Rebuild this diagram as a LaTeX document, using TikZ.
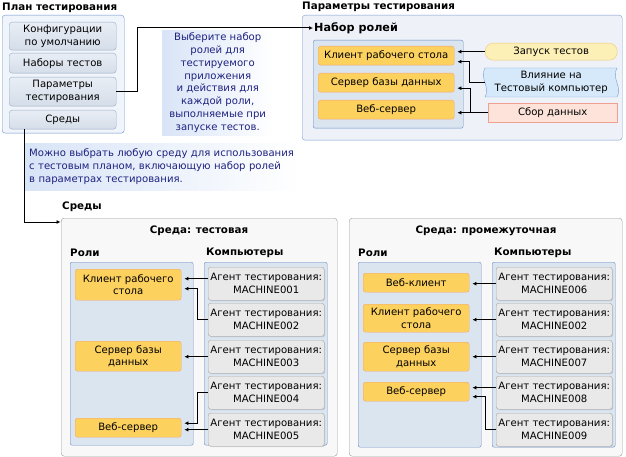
\documentclass[tikz,border=0pt]{standalone}
\usepackage{fontspec}
\setmainfont{DejaVu Sans}
\usepackage{tikz}
\usetikzlibrary{positioning,calc,arrows.meta,shadows}

\definecolor{planline}{HTML}{6B8FD0}
\definecolor{planfill}{HTML}{F0F4FB}
\definecolor{btnline}{HTML}{9AAAC4}
\definecolor{btntop}{HTML}{E9EEF5}
\definecolor{btnbot}{HTML}{D4DDE9}
\definecolor{notefill}{HTML}{D8E4F7}
\definecolor{notetext}{HTML}{1E2280}
\definecolor{parline}{HTML}{7D9AD2}
\definecolor{parfill}{HTML}{EEF2F8}
\definecolor{rpline}{HTML}{6A8AC6}
\definecolor{rpfill}{HTML}{DAE5F0}
\definecolor{roleline}{HTML}{EFA47E}
\definecolor{rolefill}{HTML}{FDD15E}
\definecolor{runline}{HTML}{F0C878}
\definecolor{runfill}{HTML}{FDF0B6}
\definecolor{impline}{HTML}{6FA2D8}
\definecolor{impfill}{HTML}{D6E9FA}
\definecolor{colline}{HTML}{F0A090}
\definecolor{colfill}{HTML}{FDE3DA}
\definecolor{envline}{HTML}{9C9C9C}
\definecolor{envfill}{HTML}{F8F8F8}
\definecolor{agline}{HTML}{A8A8A8}
\definecolor{agfill}{HTML}{E9E9E9}

\tikzset{
  box/.style={anchor=north west, inner sep=0pt, align=center},
  ttl/.style={anchor=west, inner sep=0pt, font=\fontsize{10.3}{12}\selectfont\bfseries},
  hdr/.style={inner sep=0pt, font=\fontsize{10.3}{12}\selectfont\bfseries},
  panel/.style={box, rounded corners=3pt},
  btn/.style={box, draw=btnline, top color=btntop, bottom color=btnbot, rounded corners=3pt, minimum width=107pt},
  note/.style={box, left color=notefill, right color=white, text=notetext},
  rolepanel/.style={box, draw=rpline, fill=rpfill, rounded corners=2pt},
  role/.style={box, draw=roleline, fill=rolefill, rounded corners=2.5pt},
  agent/.style={box, draw=agline, fill=agfill, rounded corners=2.5pt, minimum width=116pt, minimum height=33pt,
    drop shadow={shadow xshift=1pt, shadow yshift=-1pt, opacity=0.25}},
  envbox/.style={box, draw=envline, fill=envfill, rounded corners=3pt},
  arr/.style={draw=black, line width=1pt, -{Latex[length=4pt,width=4pt]}, shorten >=3pt}
}

\begin{document}
\begin{tikzpicture}[x=1pt, y=-1pt, font=\fontsize{10.1}{12.8}\selectfont]
    \useasboundingbox (0,0) rectangle (626,457);

    % Test plan
    \node[ttl] (plan) at (2,8) {План тестирования};
    \node[panel, draw=planline, fill=planfill, minimum width=122pt, minimum height=118pt] (pbox) at (2,15) {};
    \node[btn, minimum height=28pt] (cfg) at (9,22) {Конфигурации\\по умолчанию};
    \node[btn, minimum height=20pt] (sets) at (9,53) {Наборы тестов};
    \node[btn, minimum height=29pt] (par) at (9,77) {Параметры\\тестирования};
    \node[btn, minimum height=19pt] (env) at (9,110) {Среды};

    % Notes
    \node[note, minimum width=111pt, minimum height=105pt] (n1) at (162,30)
        {Выберите набор\\ролей для\\тестируемого\\приложения\\и действия для\\каждой роли,\\выполняемые при\\запуске тестов.};
    \node[note, align=left, text width=267pt, inner xsep=4pt, minimum height=47pt] (n2) at (25,143)
        {Можно выбрать любую среду для использования\\с тестовым планом, включающую набор ролей\\в параметрах тестирования.};

    % Test settings
    \node[ttl] (ptitle) at (302,7) {Параметры тестирования};
    \node[panel, draw=parline, fill=parfill, minimum width=320pt, minimum height=125pt] (parbox) at (302,15) {};
    \node[ttl, font=\fontsize{11.2}{13}\selectfont\bfseries] (rset) at (314,28) {Набор ролей};
    \node[rolepanel, minimum width=150pt, minimum height=88pt] (rp) at (313,40) {};
    \node[role, minimum width=136pt, minimum height=19pt] (rcli) at (318,46) {Клиент рабочего стола};
    \node[role, minimum width=136pt, minimum height=19pt] (rsrv) at (318,73) {Сервер базы данных};
    \node[role, minimum width=136pt, minimum height=19pt] (rweb) at (318,100) {Веб-сервер};

    % Adapters
    \node[box, draw=runline, fill=runfill, rounded corners=8pt, minimum width=132pt, minimum height=17pt] (run) at (485,43) {Запуск тестов};
    \draw[draw=impline, fill=impfill] (485,68) .. controls (479,78) and (491,88) .. (485,97)
        -- (617,97) .. controls (623,88) and (611,78) .. (617,68) -- cycle;
    \node[box, minimum width=132pt, minimum height=29pt] (imp) at (485,68) {Влияние на\\Тестовый компьютер};
    \node[box, draw=colline, fill=colfill, minimum width=129pt, minimum height=19pt] (col) at (488,103) {Сбор данных};

    \draw[arr] (run.west) -- (run.west -| rcli.east);
    \draw[arr] (imp.west) -- ++(-16,0) |- ($(rcli.east)+(0,6)$);
    \draw[arr] (col.west) -- ++(-18,0) |- ($(rsrv.east)+(0,5.5)$);
    \draw[arr] (col.west) -- (col.west -| rweb.east);

    % Links from the plan
    \draw[arr, shorten >=1pt] (par.east) -- ++(21,0) |- (rset.west);
    \draw[arr, shorten >=0.5pt] ([xshift=15pt]env.south west) |- ($(61,218)+(0,4)$) coordinate (envin);

    % Environments
    \node[ttl] (envs) at (62,207) {Среды};

    % Environment: test
    \node[envbox, minimum width=276pt, minimum height=238pt] (envt) at (61,218) {};
    \node[hdr] (t1) at (199,231) {Среда: тестовая};
    \node[ttl] (r1) at (70,253) {Роли};
    \node[ttl] (c1) at (206,253) {Компьютеры};
    \node[rolepanel, minimum width=123pt, minimum height=183pt] (rolesT) at (70,262) {};
    \node[rolepanel, minimum width=123pt, minimum height=183pt] (compT) at (204,262) {};
    \node[role, minimum width=106pt, minimum height=31pt] (tcli) at (75,269) {Клиент рабочего\\стола};
    \node[role, minimum width=106pt, minimum height=30pt] (tsrv) at (75,341) {Сервер базы\\данных};
    \node[role, minimum width=106pt, minimum height=19pt] (tweb) at (75,418) {Веб-сервер};
    \node[agent] (a1) at (208,267) {Агент тестирования:\\MACHINE001};
    \node[agent] (a2) at (208,303) {Агент тестирования:\\MACHINE002};
    \node[agent] (a3) at (208,340) {Агент тестирования:\\MACHINE003};
    \node[agent] (a4) at (208,376) {Агент тестирования:\\MACHINE004};
    \node[agent] (a5) at (208,413) {Агент тестирования:\\MACHINE005};

    \draw[arr] ($(a1.west)+(0,-5)$) -- ($(a1.west -| tcli.east)+(0,-5)$);
    \draw[arr] (a2.west) -- ++(-11,0) |- ($(tcli.east)+(0,4)$);
    \draw[arr] (a3.west) -- (a3.west -| tsrv.east);
    \draw[arr] (a4.west) -- ++(-11,0) |- ($(tweb.east)+(0,-4.5)$);
    \draw[arr] (a5.west) -- (a5.west -| tweb.east);

    % Environment: staging
    \node[envbox, minimum width=273pt, minimum height=238pt] (envp) at (349,218) {};
    \node[hdr] (t2) at (486,231) {Среда: промежуточная};
    \node[ttl] (r2) at (358,253) {Роли};
    \node[ttl] (c2) at (494,253) {Компьютеры};
    \node[rolepanel, minimum width=123pt, minimum height=185pt] (rolesP) at (358,262) {};
    \node[rolepanel, minimum width=123pt, minimum height=185pt] (compP) at (492,262) {};
    \node[role, minimum width=106pt, minimum height=19pt] (pwc) at (363,273) {Веб-клиент};
    \node[role, minimum width=106pt, minimum height=28pt] (pcli) at (363,304) {Клиент рабочего\\стола};
    \node[role, minimum width=106pt, minimum height=29pt] (psrv) at (363,342) {Сервер базы\\данных};
    \node[role, minimum width=106pt, minimum height=19pt] (pweb) at (363,382) {Веб-сервер};
    \node[agent] (b1) at (496,267) {Агент тестирования:\\MACHINE006};
    \node[agent] (b2) at (496,303) {Агент тестирования:\\MACHINE002};
    \node[agent] (b3) at (496,340) {Агент тестирования:\\MACHINE007};
    \node[agent] (b4) at (496,376) {Агент тестирования:\\MACHINE008};
    \node[agent] (b5) at (496,413) {Агент тестирования:\\MACHINE009};

    \draw[arr] (b1.west) -- (b1.west -| pwc.east);
    \draw[arr] (b2.west) -- (b2.west -| pcli.east);
    \draw[arr] (b3.west) -- (b3.west -| psrv.east);
    \draw[arr] ($(b4.west)+(0,-5)$) -- ($(b4.west -| pweb.east)+(0,-5)$);
    \draw[arr] (b5.west) -- ++(-11,0) |- ($(pweb.east)+(0,5)$);

\end{tikzpicture}
\end{document}
